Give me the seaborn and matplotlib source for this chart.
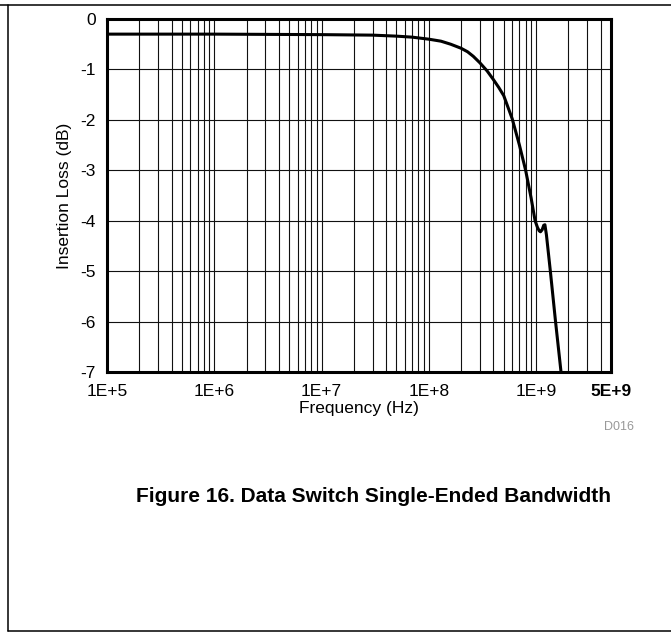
import numpy as np
import pandas as pd
import matplotlib
matplotlib.use("Agg")
import matplotlib.pyplot as plt
from matplotlib.lines import Line2D
from matplotlib.ticker import LogLocator, NullFormatter, FixedLocator
import seaborn as sns

# curve (Hz, dB)
freq_hz = [1e5, 1e6, 1e7, 3e7, 5e7, 7e7, 1e8, 1.3e8, 1.6e8, 2e8, 2.3e8, 2.6e8,
           3e8, 3.5e8, 4e8, 4.5e8, 5e8, 6e8, 7e8, 8e8, 9e8, 9.8e8, 1.03e9,
           1.07e9, 1.1e9, 1.14e9, 1.18e9, 1.21e9, 1.25e9, 1.36e9, 1.52e9, 1.71e9]
loss_db = [-0.30, -0.30, -0.31, -0.32, -0.34, -0.36, -0.40, -0.44, -0.50, -0.58,
           -0.65, -0.74, -0.87, -1.03, -1.20, -1.36, -1.52, -1.98, -2.50, -3.00,
           -3.55, -4.00, -4.13, -4.20, -4.22, -4.18, -4.09, -4.08, -4.28, -5.00,
           -6.00, -7.00]

x_ticks = [1e5, 1e6, 1e7, 1e8, 1e9, 5e9]
x_labels = ["1E+5", "1E+6", "1E+7", "1E+8", "1E+9", "5E+9"]
y_ticks = [0, -1, -2, -3, -4, -5, -6, -7]
y_labels = ["0", "-1", "-2", "-3", "-4", "-5", "-6", "-7"]

df = pd.DataFrame({"Frequency": freq_hz, "Loss": loss_db})

sns.set_style("white")
plt.rcParams["font.family"] = ["Liberation Sans", "DejaVu Sans"]
plt.rcParams["text.color"] = "black"
plt.rcParams["axes.labelcolor"] = "black"

fig = plt.figure(figsize=(6.71, 6.34), dpi=100)
ax = fig.add_axes([107 / 671, 1 - 372 / 634, 504 / 671, 353 / 634])

sns.lineplot(data=df, x="Frequency", y="Loss", ax=ax, color="black", lw=2.2, zorder=3)

ax.set_xscale("log")
ax.set_xlim(1e5, 5e9)
ax.set_ylim(-7, 0)
ax.xaxis.set_major_locator(FixedLocator(x_ticks))
ax.set_xticklabels(x_labels)
ax.xaxis.set_minor_locator(LogLocator(base=10, subs=np.arange(2, 10)))
ax.xaxis.set_minor_formatter(NullFormatter())
ax.set_yticks(y_ticks)
ax.set_yticklabels(y_labels)
ax.get_xticklabels()[-1].set_fontweight("bold")

ax.tick_params(axis="both", which="both", length=0, labelsize=12.5, colors="black")
ax.tick_params(axis="x", pad=9)
ax.tick_params(axis="y", pad=8)

ax.grid(which="major", axis="both", color="#111111", lw=0.8)
ax.grid(which="minor", axis="x", color="#111111", lw=0.8)
ax.set_axisbelow(True)
for s in ax.spines.values():
    s.set_visible(True)
    s.set_color("black")
    s.set_linewidth(2.2)
    s.set_zorder(4)

ax.set_xlabel("Frequency (Hz)", fontsize=12.5, labelpad=1)
ax.set_ylabel("Insertion Loss (dB)", fontsize=12.5, labelpad=6)

fig.text(634 / 671, 1 - 427 / 634, "D016", fontsize=9, color="#999999",
         ha="right", va="center")
fig.text(373 / 671, 1 - 497 / 634, "Figure 16. Data Switch Single-Ended Bandwidth",
         fontsize=15, fontweight="bold", ha="center", va="center")

# page frame
y_top = 1 - 4.5 / 634
y_bot = 1 - 631 / 634
x_left = 8 / 671
fig.add_artist(Line2D([0, 1], [y_top, y_top], transform=fig.transFigure, color="black", lw=1.1))
fig.add_artist(Line2D([x_left, x_left], [y_top, y_bot], transform=fig.transFigure, color="black", lw=1.1))
fig.add_artist(Line2D([x_left, 1], [y_bot, y_bot], transform=fig.transFigure, color="black", lw=1.1))

fig.savefig("out.png", dpi=100)
